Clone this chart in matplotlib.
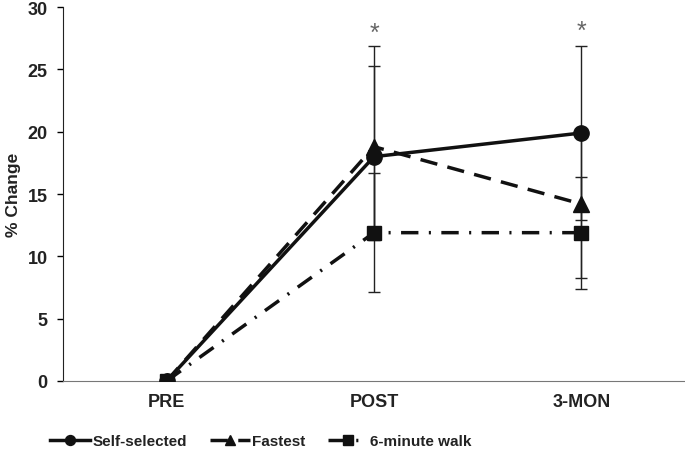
import numpy as np
import matplotlib
matplotlib.use("Agg")
import matplotlib.pyplot as plt

plt.rcParams['font.family'] = ['Liberation Sans', 'DejaVu Sans']
plt.rcParams['font.weight'] = 'bold'

# data
timepoints = ['PRE', 'POST', '3-MON']
self_selected = [0, 18.0, 19.9]
fastest = [0, 18.8, 14.2]
six_min_walk = [0, 11.9, 11.9]

# error bars (lower, upper)
self_err = [[0, 6.7, 7.0], [0, 8.9, 7.0]]
fastest_err = [[0, 7.2, 5.9], [0, 6.5, 5.9]]
walk_err = [[0, 4.8, 4.5], [0, 4.8, 4.5]]

sig_points = [1, 2]
sig_heights = [27.9, 28.1]

x = np.arange(len(timepoints))

fig = plt.figure(figsize=(6.85, 4.52), dpi=100)
ax = fig.add_axes([0.092, 0.155, 0.908, 0.827])

for vals, err in [(self_selected, self_err), (fastest, fastest_err), (six_min_walk, walk_err)]:
    ax.errorbar(x, vals, yerr=err, fmt='none', ecolor='#222222', elinewidth=1,
                capsize=4, capthick=1, zorder=1)

ax.plot(x, self_selected, '-', color='#111111', lw=2.5, marker='o', ms=11, label='Self-selected', zorder=3)
ax.plot(x, fastest, color='#111111', lw=2.5, ls=(0, (5, 3)), marker='^', ms=11, label='Fastest', zorder=3)
ax.plot(x, six_min_walk, color='#111111', lw=2.5, ls=(0, (5, 3, 0.6, 3)), marker='s', ms=10.5, label='6-minute walk', zorder=3)

for xi, yi in zip(sig_points, sig_heights):
    ax.text(x[xi], yi, '*', ha='center', va='center', fontsize=18, color='#666666', fontweight='normal')

ax.set_xlim(-0.5, 2.5)
ax.set_ylim(0, 30)
ax.set_yticks(range(0, 31, 5))
ax.set_xticks(x)
ax.set_xticklabels(timepoints)
ax.tick_params(axis='x', length=0, pad=9, labelsize=13)
ax.tick_params(axis='y', length=4, width=1, labelsize=13, direction='out', pad=7)
for lbl in ax.get_xticklabels() + ax.get_yticklabels():
    lbl.set_fontweight('bold')
    lbl.set_color('#222222')
ax.set_ylabel('% Change', fontsize=12.5, fontweight='bold', color='#222222', labelpad=5)

ax.spines['top'].set_visible(False)
ax.spines['right'].set_visible(False)
ax.spines['bottom'].set_color('#777777')
ax.spines['left'].set_color('#222222')

leg = fig.legend(loc='center', bbox_to_anchor=(0.381, 0.022), ncol=3, frameon=False,
                 fontsize=11, handlelength=2.6, columnspacing=1.5, handletextpad=0.15,
                 markerscale=0.65)
for t in leg.get_texts():
    t.set_fontweight('bold')
    t.set_color('#222222')

fig.savefig('out.png', dpi=100)
